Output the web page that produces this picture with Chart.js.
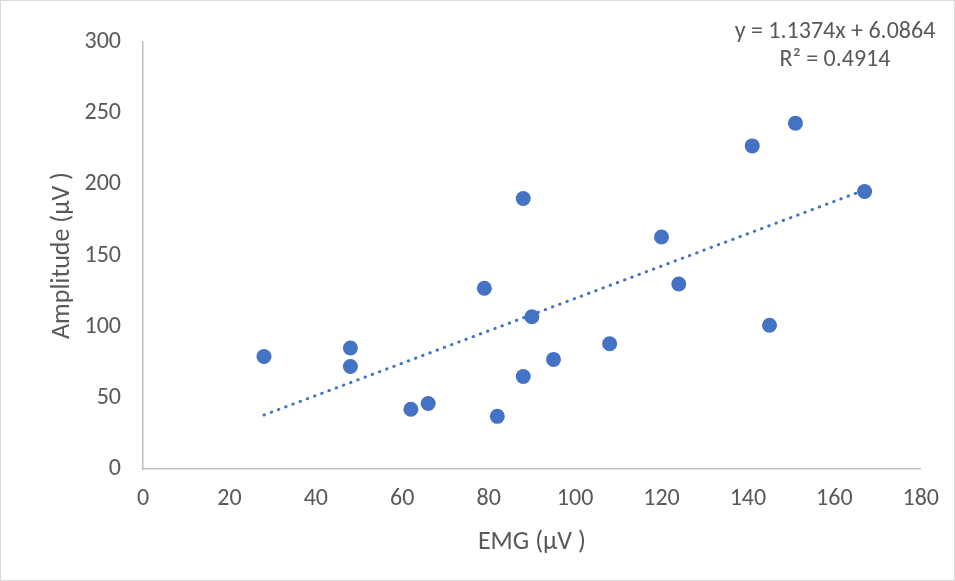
<!DOCTYPE html>
<html>
<head>
<meta charset="utf-8">
<style>
  html, body { margin: 0; padding: 0; background: #fff; }
  #wrap { width: 955px; height: 581px; }
</style>
<script src="https://cdn.jsdelivr.net/npm/chart.js@4"></script>
</head>
<body>
<div id="wrap"><canvas id="myChart" width="955" height="581"></canvas></div>
<script>
// data
const emg = [28, 48, 48, 62, 66, 82, 79, 88, 88, 90, 95, 108, 120, 124, 141, 145, 151, 167];
const amplitude = [79, 85, 72, 42, 46, 37, 127, 190, 65, 107, 77, 88, 163, 130, 227, 101, 243, 195];

// trendline as printed on the chart
const slope = 1.1374;
const intercept = 6.0864;
const rSquared = 0.4914;

const xTicks = [0, 20, 40, 60, 80, 100, 120, 140, 160, 180];
const yTicks = [0, 50, 100, 150, 200, 250, 300];

const points = emg.map((x, i) => ({ x: x, y: amplitude[i] }));
const xMin = Math.min(...emg);
const xMax = Math.max(...emg);
const trend = [
  { x: xMin, y: slope * xMin + intercept },
  { x: xMax, y: slope * xMax + intercept },
];

const textColor = "#595959";
const fontFamily = "Calibri, Carlito, 'Open Sans', sans-serif";

// border + equation text
const extras = {
  id: "extras",
  beforeDraw(chart) {
    const c = chart.ctx;
    c.save();
    c.fillStyle = "#fff";
    c.fillRect(0, 0, chart.width, chart.height);
    c.strokeStyle = "#d9d9d9";
    c.lineWidth = 1;
    c.strokeRect(0.5, 0.5, chart.width - 1, chart.height - 1);
    c.restore();
  },
  afterDraw(chart) {
    const c = chart.ctx;
    c.save();
    c.fillStyle = textColor;
    c.font = "24px " + fontFamily;
    c.textAlign = "center";
    c.textBaseline = "middle";
    c.fillText("y = " + slope + "x + " + intercept, 835, 32);
    c.fillText("R² = " + rSquared, 835, 60);
    c.restore();
  },
};

const ctx = document.getElementById("myChart").getContext("2d");

const myChart = new Chart(ctx, {
  type: "scatter",
  data: {
    datasets: [
      {
        label: "Amplitude",
        data: points,
        backgroundColor: "#4472C4",
        borderColor: "#4472C4",
        pointRadius: 7.5,
        pointHoverRadius: 7.5,
        borderWidth: 0,
      },
      {
        label: "Trend",
        type: "line",
        data: trend,
        borderColor: "#4472C4",
        borderWidth: 3,
        borderDash: [0.5, 7.2],
        borderCapStyle: "round",
        pointRadius: 0,
        fill: false,
      },
    ],
  },
  options: {
    responsive: false,
    animation: false,
    layout: { padding: { left: 0, right: 33, top: 42, bottom: 0 } },
    plugins: {
      legend: { display: false },
      tooltip: { enabled: false },
    },
    scales: {
      x: {
        type: "linear",
        min: 0,
        max: 180,
        afterBuildTicks(scale) {
          scale.ticks = xTicks.map((v) => ({ value: v }));
        },
        afterFit(scale) {
          scale.height = 581 - 469;
        },
        grid: { display: false, drawTicks: false },
        border: { display: true, color: "#BFBFBF", width: 1.5 },
        ticks: { color: textColor, font: { size: 24, family: fontFamily }, padding: 16, maxRotation: 0 },
        title: {
          display: true,
          text: "EMG (µV )",
          color: textColor,
          font: { size: 26, family: fontFamily },
          padding: { top: 0, bottom: 23 },
        },
      },
      y: {
        type: "linear",
        min: 0,
        max: 300,
        afterBuildTicks(scale) {
          scale.ticks = yTicks.map((v) => ({ value: v }));
        },
        afterFit(scale) {
          scale.width = 143;
        },
        grid: { display: false, drawTicks: false },
        border: { display: true, color: "#BFBFBF", width: 1.5 },
        ticks: { color: textColor, font: { size: 24, family: fontFamily }, padding: 22 },
        title: {
          display: true,
          text: "Amplitude (µV )",
          color: textColor,
          font: { size: 26, family: fontFamily },
          padding: { top: 47, bottom: 0 },
        },
      },
    },
  },
  plugins: [extras],
});
</script>
</body>
</html>
